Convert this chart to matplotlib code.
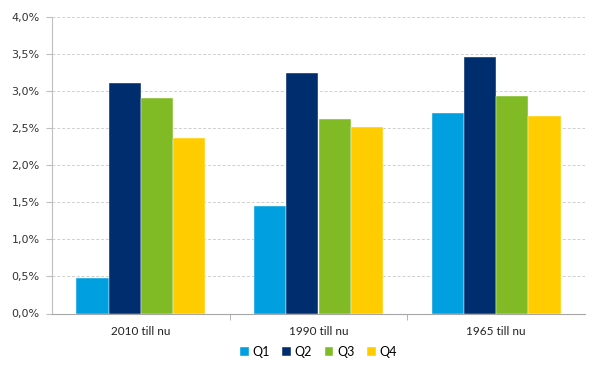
import matplotlib.pyplot as plt
import numpy as np
from matplotlib.ticker import FuncFormatter, FixedLocator

plt.rcParams["font.family"] = ["Lato", "DejaVu Sans"]

perioder = ["2010 till nu", "1990 till nu", "1965 till nu"]
kvartal = ["Q1", "Q2", "Q3", "Q4"]
q1 = [0.48, 1.45, 2.70]
q2 = [3.11, 3.25, 3.46]
q3 = [2.91, 2.62, 2.94]
q4 = [2.37, 2.51, 2.67]
farger = ["#009FDF", "#002D6E", "#80BA24", "#FFCC00"]

fig = plt.figure(figsize=(6.08, 3.66), dpi=100)
ax = fig.add_axes([52 / 608, 1 - 313.5 / 366, 533 / 608, 296.5 / 366])

x = np.arange(len(perioder))
bredd = 0.725 / 4
for i, (serie, namn) in enumerate(zip([q1, q2, q3, q4], kvartal)):
    ax.bar(x + (i - 1.5) * bredd, serie, bredd, color=farger[i], label=namn,
           edgecolor="white", linewidth=0.3, zorder=3)

ax.set_xlim(-0.5, 2.5)
ax.set_ylim(0, 4.0)
ax.set_yticks(np.arange(0, 4.01, 0.5))
ax.yaxis.set_major_formatter(FuncFormatter(lambda v, _: f"{v:.1f}%".replace(".", ",")))
ax.grid(axis="y", color="#CFCFCF", linestyle=(0, (3, 2)), linewidth=0.7, zorder=0)

ax.set_xticks(x)
ax.set_xticklabels(perioder)
ax.xaxis.set_minor_locator(FixedLocator([0.5, 1.5]))
ax.tick_params(axis="x", which="major", length=0, pad=9, labelsize=8.5, colors="#222222")
ax.tick_params(axis="x", which="minor", length=4, color="#A6A6A6", direction="out")
ax.tick_params(axis="y", length=4, color="#BFBFBF", labelsize=8, colors="#333333", pad=5)
for lbl in ax.get_yticklabels():
    lbl.set_family("DejaVu Sans")

for s in ["top", "right"]:
    ax.spines[s].set_visible(False)
ax.spines["left"].set_color("#BFBFBF")
ax.spines["bottom"].set_color("#A6A6A6")

ax.legend(loc="center", bbox_to_anchor=(0.5, -0.13), ncol=4, frameon=False,
          fontsize=9, handlelength=0.7, handleheight=0.7, handletextpad=0.3,
          columnspacing=1.0)

fig.savefig("out.png", dpi=100)
